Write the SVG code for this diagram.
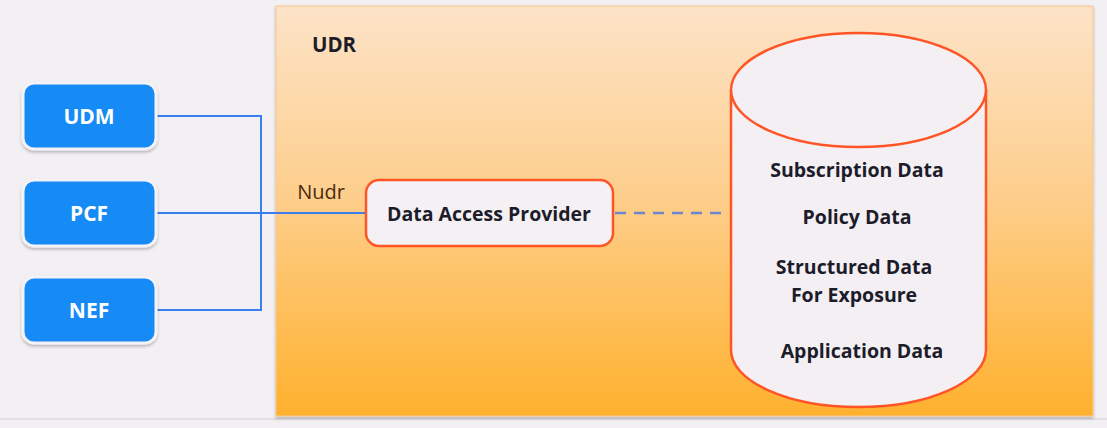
<svg xmlns="http://www.w3.org/2000/svg" width="1107" height="428" viewBox="0 0 1107 428">
<defs>
<linearGradient id="udrGrad" x1="0" y1="0" x2="0" y2="1">
<stop offset="0" stop-color="#fde3c8"/>
<stop offset="0.45" stop-color="#fdcf8e"/>
<stop offset="1" stop-color="#ffb12e"/>
</linearGradient>
<filter id="sh" x="-10%" y="-10%" width="130%" height="140%">
<feDropShadow dx="0" dy="2" stdDeviation="1.5" flood-color="#000" flood-opacity="0.25"/>
</filter>
</defs>
<style>
.nf{fill:#178bf6;stroke:#f4f2f6;stroke-width:3}
.nt{font-family:"Open Sans","Liberation Sans",sans-serif;font-weight:bold;font-size:21px;fill:#ffffff;text-anchor:middle;dominant-baseline:central}
.dt{font-family:"Open Sans","Liberation Sans",sans-serif;font-weight:bold;font-size:19.5px;fill:#1c1c2a;text-anchor:middle;dominant-baseline:central}
.ln{stroke:#3a7ff0;stroke-width:2;fill:none}
.ds{stroke:#6f86cf;stroke-width:2.5;fill:none;stroke-dasharray:11 8}
</style>
<rect x="0" y="0" width="1107" height="428" fill="#f3f0f3"/>
<line x1="0" y1="419" x2="1107" y2="419" stroke="#dcdadf" stroke-width="1.5"/>
<g id="UDR">
<rect x="276" y="6" width="817" height="410" fill="url(#udrGrad)" stroke="#f9c690" stroke-width="1" filter="url(#sh)"/>
<text x="334" y="44" class="dt" style="font-size:20.5px">UDR</text>
</g>
<g id="connectors">
<polyline class="ln" points="156,116 261,116 261,310 156,310"/>
<line class="ln" x1="156" y1="213" x2="366" y2="213"/>
<line class="ds" x1="615" y1="213" x2="726" y2="213"/>
<text x="321" y="191" font-family="Open Sans, Liberation Sans, sans-serif" font-size="20" fill="#4a2a10" text-anchor="middle" dominant-baseline="central">Nudr</text>
</g>
<g id="UDM">
<rect class="nf" x="23" y="83" width="133" height="66" rx="11" filter="url(#sh)"/>
<text class="nt" x="89" y="116">UDM</text>
</g>
<g id="PCF">
<rect class="nf" x="23" y="180" width="133" height="66" rx="11" filter="url(#sh)"/>
<text class="nt" x="89" y="213">PCF</text>
</g>
<g id="NEF">
<rect class="nf" x="23" y="277" width="133" height="66" rx="11" filter="url(#sh)"/>
<text class="nt" x="89" y="310">NEF</text>
</g>
<g id="DAP">
<rect x="366" y="180" width="247" height="66" rx="13" fill="#f4f0f3" stroke="#ff5526" stroke-width="2.5"/>
<text class="dt" x="489" y="213">Data Access Provider</text>
</g>
<g id="DB">
<path d="M731,90 L731,350 A127.5,57 0 0 0 986,350 L986,90" fill="#f3eff3" stroke="#ff5526" stroke-width="2.5"/>
<ellipse cx="858.5" cy="90" rx="127.5" ry="57" fill="#f3eff3" stroke="#ff5526" stroke-width="2.5"/>
<text class="dt" x="857" y="169">Subscription Data</text>
<text class="dt" x="857" y="216">Policy Data</text>
<text class="dt" x="854" y="266">Structured Data</text>
<text class="dt" x="854" y="294">For Exposure</text>
<text class="dt" x="862" y="350">Application Data</text>
</g>
</svg>
